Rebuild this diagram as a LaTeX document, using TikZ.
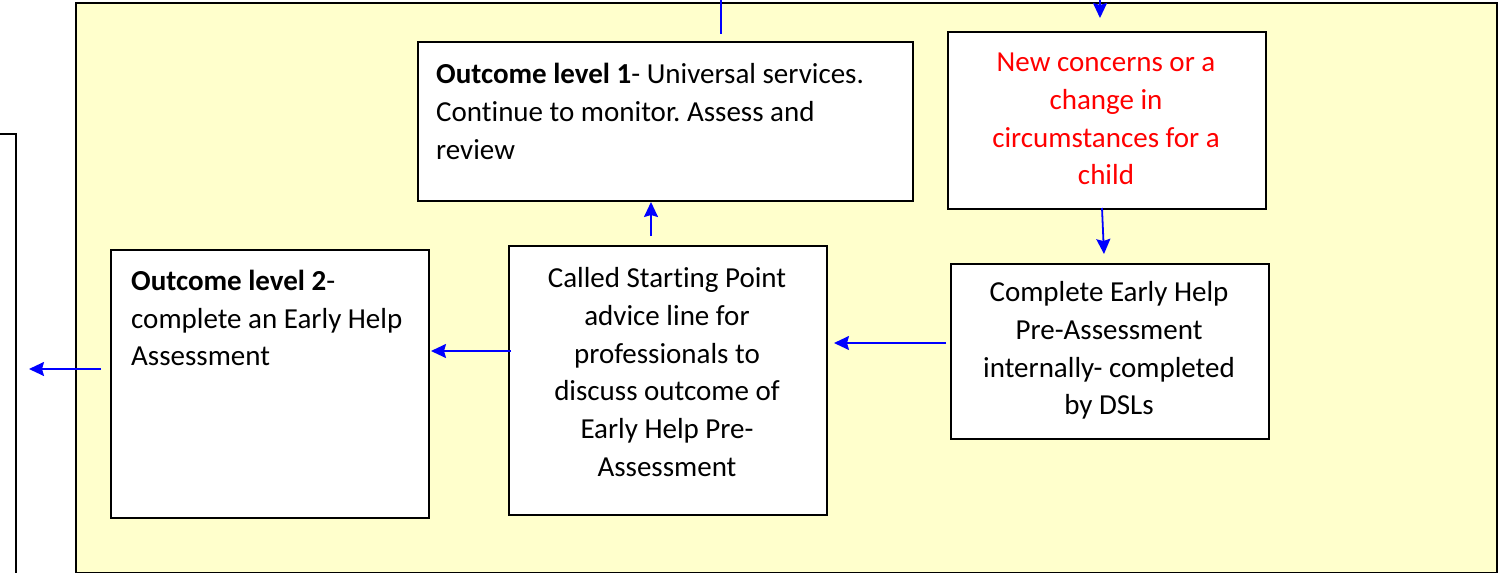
\documentclass[tikz,border=0pt]{standalone}
\usepackage{fontspec}
\setmainfont{Carlito}[Ligatures={NoCommon}]
\usetikzlibrary{arrows.meta}
\frenchspacing
\definecolor{panel}{HTML}{FFFFCC}
\tikzset{
  boxstyle/.style={draw=black, line width=1.8pt, fill=white},
  txt/.style={inner sep=0pt, font=\fontsize{29}{37.8}\selectfont},
  conn/.style={draw=blue, line width=1.8pt, -{Stealth[length=15pt,width=14pt,inset=2pt]}},
  plainconn/.style={draw=blue, line width=1.8pt}
}
\begin{document}
\begin{tikzpicture}[x=1pt,y=-1pt]
\useasboundingbox (0,0) rectangle (1500,573);
% outer yellow panel
\node[draw=black, line width=2.2pt, fill=panel, minimum width=1421pt, minimum height=570pt, anchor=north west, inner sep=0pt] (panel) at (75,2) {};
% partial box at left
\draw[black, line width=1.8pt] (-10,134) -- (16,134) -- (16,580);
% boxes
\node[boxstyle, minimum width=495pt, minimum height=159pt, anchor=north west, inner sep=0pt] (o1) at (417,41) {};
\node[boxstyle, minimum width=318pt, minimum height=177pt, anchor=north west, inner sep=0pt] (newc) at (947,31) {};
\node[boxstyle, minimum width=318pt, minimum height=268pt, anchor=north west, inner sep=0pt] (o2) at (110,249) {};
\node[boxstyle, minimum width=318pt, minimum height=269pt, anchor=north west, inner sep=0pt] (called) at (508,245) {};
\node[boxstyle, minimum width=318pt, minimum height=175pt, anchor=north west, inner sep=0pt] (comp) at (950,263) {};
% texts
\node[txt, align=left, anchor=west] (o1t) at (436,111.5) {\textbf{Outcome level 1}- Universal services.\\Continue to monitor. Assess and\\review};
\node[txt, align=center, text=red] (newct) at (1106,119) {New concerns or a\\change in\\circumstances for a\\child};
\node[txt, align=center] (compt) at (1109,350.5) {Complete Early Help\\Pre-Assessment\\internally- completed\\by DSLs};
\node[txt, align=center] (calledt) at (667,372) {Called Starting Point\\advice line for\\professionals to\\discuss outcome of\\Early Help Pre-\\Assessment};
\node[txt, align=left, anchor=west] (o2t) at (131,318) {\textbf{Outcome level 2}-\\complete an Early Help\\Assessment};
% connector coordinates
\coordinate (topL) at (721,0);
\coordinate (topLe) at (721,34);
\coordinate (topR) at (1100,0);
\coordinate (topRe) at (1100,18);
\coordinate (upS) at (651,236);
\coordinate (upE) at (651,202);
\coordinate (dnS) at (1102,208);
\coordinate (dnE) at (1104,254);
\coordinate (l1S) at (946,343);
\coordinate (l1E) at (834,343);
\coordinate (l2S) at (511,351);
\coordinate (l2E) at (431,351);
\coordinate (l3S) at (101,369);
\coordinate (l3E) at (29,369);
% connectors
\draw[plainconn] (topL) -- (topLe);
\draw[conn] (topR) -- (topRe);
\draw[conn] (upS) -- (upE);
\draw[conn] (dnS) -- (dnE);
\draw[conn] (l1S) -- (l1E);
\draw[conn] (l2S) -- (l2E);
\draw[conn] (l3S) -- (l3E);
\end{tikzpicture}
\end{document}
